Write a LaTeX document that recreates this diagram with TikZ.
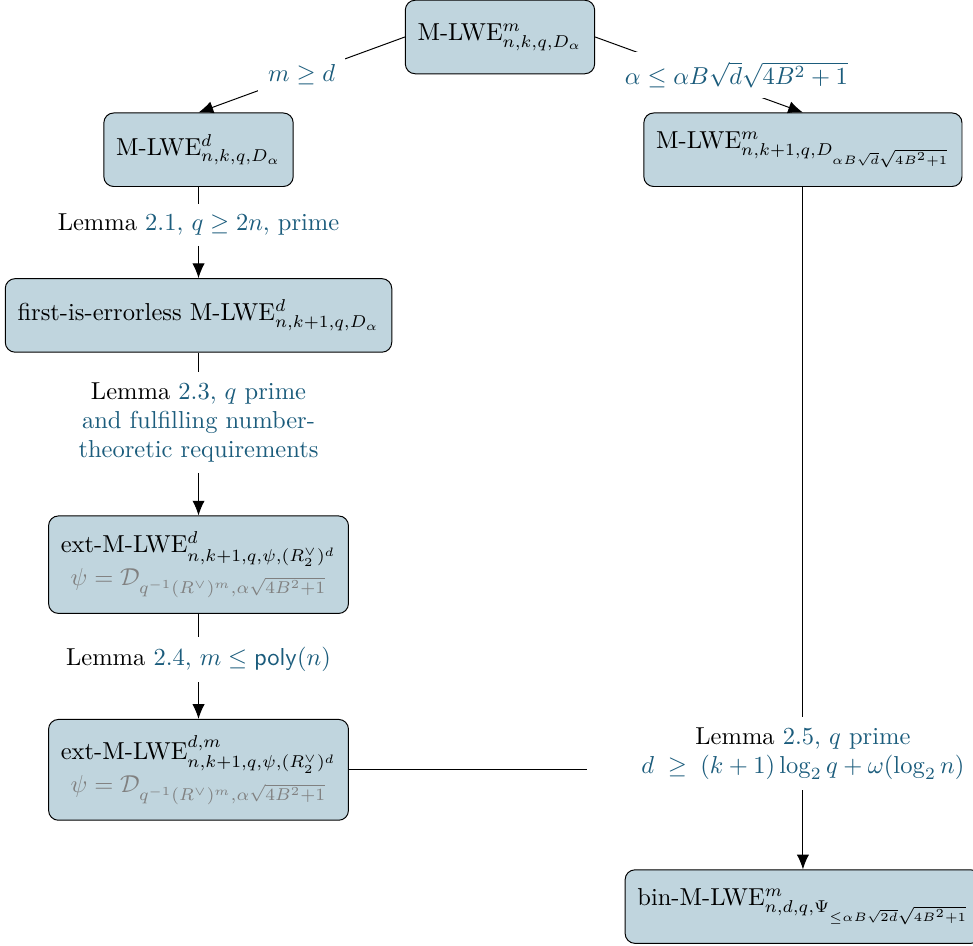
\documentclass[tikz,border=0pt]{standalone}
\usepackage{amsmath}
\usepackage{amssymb}
\usepackage[svgnames]{xcolor}
\usepackage{tikz}
\usetikzlibrary{arrows.meta}
\usetikzlibrary{positioning}

\definecolor{boxblue}{RGB}{192,213,222}
\definecolor{lnkblue}{RGB}{27,92,124}

\begin{document}
\begin{tikzpicture}
    [x=0.408pt, y=0.408pt,
     box/.style={draw, rounded corners=4pt, fill=boxblue, inner xsep=5pt, inner ysep=6.5pt, minimum height=30pt, align=center},
     cond/.style={align=center, text=lnkblue, inner sep=4pt},
     >={Latex[length=6pt,width=5pt]}]
    \useasboundingbox (-500,-909) rectangle (473,37);

    \node (mlwe) [box] at (0,0) {M-LWE$^{m}_{n,k,q,D_\alpha}$};
    \node (mlwed) [box, on grid, below left=46pt and 123pt of mlwe] {M-LWE$^{d}_{n,k,q,D_\alpha}$};
    \node (mlwek) [box, on grid, below right=46pt and 123.6pt of mlwe, align=left] {M-LWE$^{m}_{n,k+1,q,D_{\alpha B\sqrt{d}\sqrt{4B^2+1}}}$};

    \node (lemA) [cond, on grid, below=30.6pt of mlwed] {\textcolor{black}{Lemma} 2.1, $q \geq 2n$, prime};
    \node (firsterr) [box, on grid, below=37pt of lemA] {first-is-errorless M-LWE$^{d}_{n,k+1,q,D_\alpha}$};
    \node (lemB) [cond, on grid, below=43.7pt of firsterr] {\textcolor{black}{Lemma} 2.3, $q$ prime\\and fulfilling number-\\theoretic requirements};
    \node (extd) [box, on grid, below=58pt of lemB] {ext-M-LWE$^{d}_{n,k+1,q,\psi,(R_2^\vee)^d}$\\
      \textcolor{gray}{$\psi = \mathcal{D}_{q^{-1}(R^\vee)^m,\alpha\sqrt{4B^2+1}}$}};
    \node (lemC) [cond, on grid, below=38.8pt of extd] {\textcolor{black}{Lemma} 2.4, $m \leq \mathsf{poly}(n)$};
    \node (extdm) [box, on grid, below=44.9pt of lemC] {ext-M-LWE$^{d,m}_{n,k+1,q,\psi,(R_2^\vee)^d}$\\
      \textcolor{gray}{$\psi = \mathcal{D}_{q^{-1}(R^\vee)^m,\alpha\sqrt{4B^2+1}}$}};

    \node (lemD) [cond, on grid, below=246.4pt of mlwek] {\textcolor{black}{Lemma} 2.5, $q$ prime\\$d \;\geq\; (k+1)\log_2 q + \omega(\log_2 n)$};
    \node (binm) [box, on grid, below=62.4pt of lemD, align=left] {bin-M-LWE$^{m}_{n,d,q,\Psi_{\leq\alpha B\sqrt{2d}\sqrt{4B^2+1}}}$};
    \coordinate (joinD) at ([xshift=-18pt]lemD.west |- extdm.east);

    % top split
    \draw[->] (mlwe.west) -- node (condm) [cond, fill=white, pos=0.5] {$m \geq d$} (mlwed.north);
    \draw[->] (mlwe.east) -- node (condalpha) [cond, fill=white, pos=0.68, yshift=5.5pt] {$\alpha \leq \alpha B\sqrt{d}\sqrt{4B^2+1}$} (mlwek.north);

    % left column
    \draw (mlwed) -- (lemA);
    \draw[->] (lemA) -- (firsterr);
    \draw (firsterr) -- (lemB);
    \draw[->] (lemB) -- (extd);
    \draw (extd) -- (lemC);
    \draw[->] (lemC) -- (extdm);

    % right column
    \draw (mlwek) -- (lemD);
    \draw (extdm.east) -- (joinD);
    \draw[->] (lemD) -- (binm);

  \end{tikzpicture}
\end{document}
